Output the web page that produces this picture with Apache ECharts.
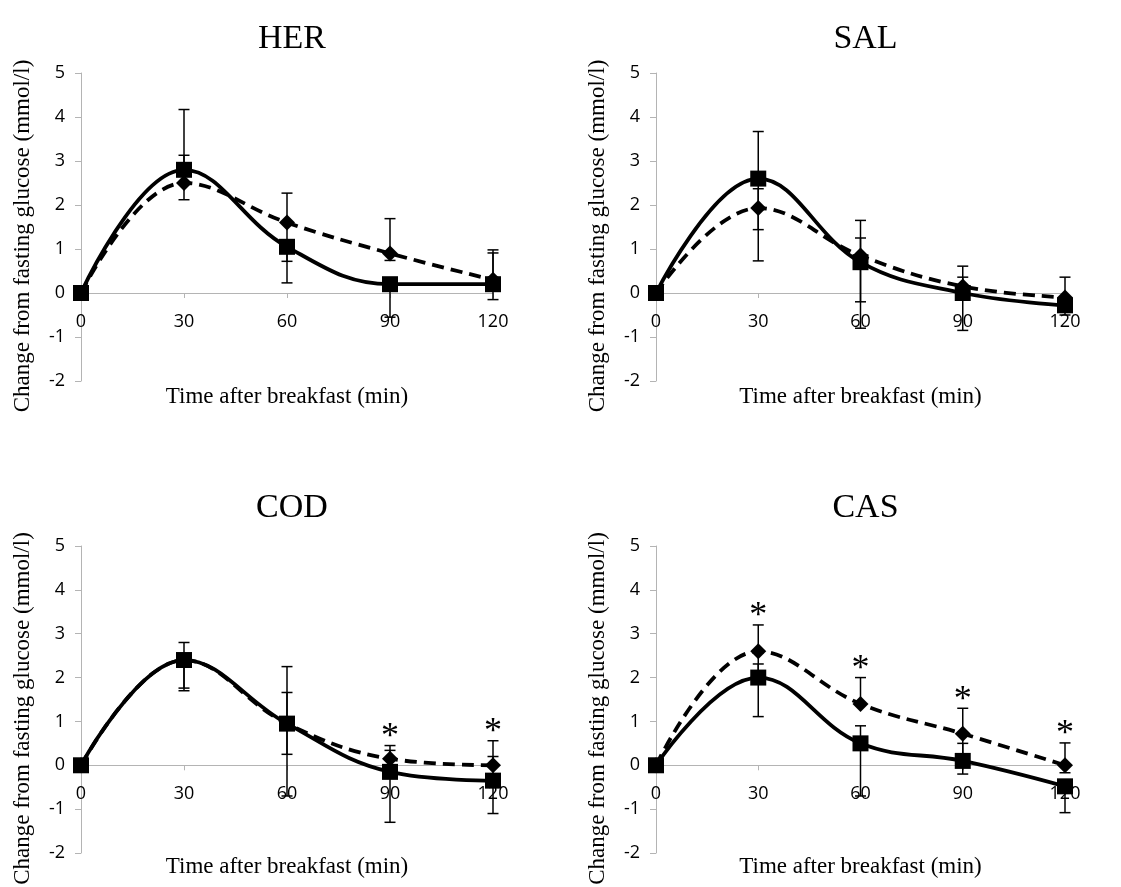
<!DOCTYPE html>
<html>
<head>
<meta charset="utf-8">
<title>Glucose response</title>
<script src="https://cdn.jsdelivr.net/npm/echarts@6/dist/echarts.min.js"></script>
<style>
  html, body { margin: 0; padding: 0; background: #fff; }
  #chart { width: 1121px; height: 887px; }
</style>
</head>
<body>
<div id="chart"></div>
<script>
// time points (min)
const times = [0, 30, 60, 90, 120];
const yTicks = [-2, -1, 0, 1, 2, 3, 4, 5];
const panelNames = ['HER', 'SAL', 'COD', 'CAS'];

// mean change (mmol/l): solid = squares, dashed = diamonds
const herSolid  = [0, 2.8, 1.05, 0.2, 0.2];
const herDashed = [0, 2.5, 1.6, 0.9, 0.3];
const salSolid  = [0, 2.6, 0.7, 0.0, -0.28];
const salDashed = [0, 1.93, 0.85, 0.15, -0.1];
const codSolid  = [0, 2.4, 0.95, -0.15, -0.35];
const codDashed = [0, 2.4, 0.95, 0.15, 0.0];
const casSolid  = [0, 2.0, 0.5, 0.1, -0.48];
const casDashed = [0, 2.6, 1.4, 0.72, 0.0];

// error bar ends (low / high)
const herSolidLo  = [0, 2.12, 0.23, -0.55, -0.15];
const herSolidHi  = [0, 4.17, 1.05, 0.2, 0.91];
const herDashedLo = [0, 2.5, 0.72, 0.74, 0.3];
const herDashedHi = [0, 3.13, 2.27, 1.69, 0.98];
const salSolidLo  = [0, 0.73, -0.8, -0.85, -0.5];
const salSolidHi  = [0, 3.67, 1.25, 0.36, -0.28];
const salDashedLo = [0, 1.44, -0.2, 0.15, -0.1];
const salDashedHi = [0, 2.37, 1.65, 0.61, 0.36];
const codSolidLo  = [0, 1.7, -0.7, -1.3, -1.1];
const codSolidHi  = [0, 2.8, 2.25, 0.34, 0.2];
const codDashedLo = [0, 1.76, 0.25, 0.15, 0.0];
const codDashedHi = [0, 2.4, 1.66, 0.45, 0.56];
const casSolidLo  = [0, 1.11, -0.7, -0.2, -1.08];
const casSolidHi  = [0, 2.31, 0.9, 0.5, -0.48];
const casDashedLo = [0, 2.0, 1.4, 0.14, -0.17];
const casDashedHi = [0, 3.2, 2.0, 1.3, 0.51];

// significance flags (asterisks)
const herSig = [0, 0, 0, 0, 0];
const salSig = [0, 0, 0, 0, 0];
const codSig = [0, 0, 0, 1, 1];
const casSig = [0, 1, 1, 1, 1];

const panels = [
  { solid: herSolid, dashed: herDashed, sLo: herSolidLo, sHi: herSolidHi, dLo: herDashedLo, dHi: herDashedHi, sig: herSig },
  { solid: salSolid, dashed: salDashed, sLo: salSolidLo, sHi: salSolidHi, dLo: salDashedLo, dHi: salDashedHi, sig: salSig },
  { solid: codSolid, dashed: codDashed, sLo: codSolidLo, sHi: codSolidHi, dLo: codDashedLo, dHi: codDashedHi, sig: codSig },
  { solid: casSolid, dashed: casDashed, sLo: casSolidLo, sHi: casSolidHi, dLo: casDashedLo, dHi: casDashedHi, sig: casSig }
];

// layout of the four plot areas
const grids = [
  { left: 81, top: 73, width: 412, height: 308 },
  { left: 656, top: 73, width: 409, height: 308 },
  { left: 81, top: 546, width: 412, height: 307 },
  { left: 656, top: 546, width: 409, height: 307 }
].map(g => Object.assign({ outerBoundsMode: 'none', containLabel: false }, g));

const AXIS_GRAY = '#b4b4b4';
const SERIF = '"Liberation Serif", "Times New Roman", serif';
const SANS = '"Open Sans", "Liberation Sans", sans-serif';

function errorRender(params, api) {
  const x = api.value(0);
  const lo = api.coord([x, api.value(1)]);
  const hi = api.coord([x, api.value(2)]);
  const w = 5.5;
  const st = { stroke: '#000', lineWidth: 1.5 };
  const kids = [
    { type: 'line', shape: { x1: lo[0], y1: lo[1], x2: hi[0], y2: hi[1] }, style: st }
  ];
  if (api.value(1) < api.value(3)) {
    kids.push({ type: 'line', shape: { x1: lo[0] - w, y1: lo[1], x2: lo[0] + w, y2: lo[1] }, style: st });
  }
  if (api.value(2) > api.value(3)) {
    kids.push({ type: 'line', shape: { x1: hi[0] - w, y1: hi[1], x2: hi[0] + w, y2: hi[1] }, style: st });
  }
  return { type: 'group', children: kids };
}

function starRender(params, api) {
  const p = api.coord([api.value(0), api.value(1)]);
  return {
    type: 'text',
    style: {
      text: '*', x: p[0], y: p[1] - 8,
      font: '36px ' + SERIF, fill: '#000',
      align: 'center', verticalAlign: 'middle'
    }
  };
}

const xAxes = [], yAxes = [], series = [], titles = [];

panels.forEach((pn, i) => {
  const g = grids[i];
  const yMin = yTicks[0], yMax = yTicks[yTicks.length - 1];
  // lift the x axis (line, ticks, labels, name) up to y = 0
  const zeroLift = g.height * (0 - yMin) / (yMax - yMin);
  titles.push({
    text: panelNames[i],
    left: g.left + g.width / 2,
    top: g.top - (i < 2 ? 56 : 60),
    textAlign: 'center',
    textStyle: { fontFamily: SERIF, fontSize: 34, fontWeight: 'normal', color: '#000' }
  });
  xAxes.push({
    gridIndex: i, type: 'value', min: 0, max: 120, interval: 30,
    position: 'bottom', offset: -zeroLift,
    name: 'Time after breakfast (min)', nameLocation: 'middle', nameGap: i < 2 ? 92 : 90,
    nameTextStyle: { fontFamily: SERIF, fontSize: 23, color: '#000' },
    axisLine: { onZero: false, lineStyle: { color: AXIS_GRAY, width: 1 } },
    axisTick: { show: true, length: 5, lineStyle: { color: AXIS_GRAY } },
    axisLabel: { fontFamily: SANS, fontSize: 18, color: '#000', margin: 20 },
    splitLine: { show: false }
  });
  yAxes.push({
    gridIndex: i, type: 'value', min: yMin, max: yMax, interval: 1,
    name: 'Change from fasting glucose (mmol/l)', nameLocation: 'middle', nameGap: 47,
    nameTextStyle: { fontFamily: SERIF, fontSize: 23, color: '#000', padding: [0, 18, 0, 0] },
    axisLine: { show: true, lineStyle: { color: AXIS_GRAY, width: 1 } },
    axisTick: { show: true, length: 6, lineStyle: { color: AXIS_GRAY } },
    axisLabel: { fontFamily: SANS, fontSize: 18, color: '#000', margin: 16 },
    splitLine: { show: false }
  });

  const solidPts = times.map((t, k) => [t, pn.solid[k]]);
  const dashedPts = times.map((t, k) => [t, pn.dashed[k]]);

  series.push({
    type: 'custom', xAxisIndex: i, yAxisIndex: i, z: 1,
    renderItem: errorRender, silent: true,
    encode: { x: 0, y: [1, 2] },
    data: times.map((t, k) => [t, pn.sLo[k], pn.sHi[k], pn.solid[k]])
      .concat(times.map((t, k) => [t, pn.dLo[k], pn.dHi[k], pn.dashed[k]]))
  });
  series.push({
    type: 'line', xAxisIndex: i, yAxisIndex: i, z: 3,
    data: dashedPts, smooth: 0.4,
    symbol: 'diamond', symbolSize: 16, showAllSymbol: true,
    lineStyle: { color: '#000', width: 3.8, type: [12, 7] },
    itemStyle: { color: '#000' }
  });
  series.push({
    type: 'line', xAxisIndex: i, yAxisIndex: i, z: 4,
    data: solidPts, smooth: 0.4,
    symbol: 'rect', symbolSize: 16, showAllSymbol: true,
    lineStyle: { color: '#000', width: 3.8 },
    itemStyle: { color: '#000' }
  });
  const stars = [];
  times.forEach((t, k) => {
    if (pn.sig[k]) stars.push([t, Math.max(pn.sHi[k], pn.dHi[k])]);
  });
  if (stars.length) {
    series.push({
      type: 'custom', xAxisIndex: i, yAxisIndex: i, z: 5,
      renderItem: starRender, silent: true,
      encode: { x: 0, y: 1 },
      data: stars
    });
  }
});

const chart = echarts.init(document.getElementById('chart'), null, { renderer: 'canvas' });
chart.setOption({
  animation: false,
  backgroundColor: '#fff',
  title: titles,
  grid: grids,
  xAxis: xAxes,
  yAxis: yAxes,
  series: series
});
</script>
</body>
</html>
